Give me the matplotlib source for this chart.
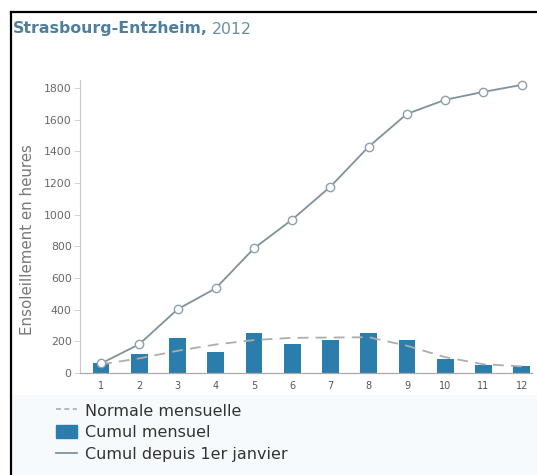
import matplotlib
matplotlib.use("Agg")
import matplotlib.pyplot as plt
import matplotlib.lines as mlines
import matplotlib.patches as mpatches

months = [1, 2, 3, 4, 5, 6, 7, 8, 9, 10, 11, 12]
month_labels = ['1', '2', '3', '4', '5', '6', '7', '8', '9', '10', '11', '12']
cumul_mensuel = [60, 122, 220, 133, 252, 182, 208, 252, 207, 89, 50, 44]
cumul_annuel = [60, 182, 402, 535, 787, 969, 1177, 1429, 1636, 1725, 1775, 1819]
normale = [55, 92, 140, 180, 208, 222, 224, 226, 172, 100, 55, 42]
yticks = [0, 200, 400, 600, 800, 1000, 1200, 1400, 1600, 1800]

bar_color = '#2b7dab'
line_color = '#7f929c'
dash_color = '#adadad'

plt.rcParams['font.family'] = ['DejaVu Sans']

W, H = 537, 475
fig = plt.figure(figsize=(W / 100, H / 100), dpi=100)
fig.patch.set_facecolor('white')

# pale band behind the legend
fig.patches.append(mpatches.Rectangle((11 / W, 0), 1, 1 - 395 / H, transform=fig.transFigure,
                                      facecolor='#f7fafc', edgecolor='none', zorder=0))
# frame (top and left edges)
fig.add_artist(mlines.Line2D([11 / W, 1], [1 - 12 / H, 1 - 12 / H], color='black', lw=1.6,
                             transform=fig.transFigure))
fig.add_artist(mlines.Line2D([11 / W, 11 / W], [0, 1 - 12 / H], color='black', lw=1.6,
                             transform=fig.transFigure))

ax = fig.add_axes([80 / W, 1 - 373 / H, (532 - 80) / W, (373 - 80) / H])
ax.set_facecolor('none')

ax.bar(months, cumul_mensuel, width=0.44, color=bar_color, zorder=2)
ax.plot(months, normale, color=dash_color, lw=1.3, dashes=(6, 4), zorder=3)
ax.plot(months, cumul_annuel, color=line_color, lw=1.3, marker='o', markersize=6,
        markerfacecolor='white', markeredgecolor='#8fa0aa', markeredgewidth=1, zorder=4)

ax.set_xlim(0.45, 12.27)
ax.set_ylim(0, 1850)
ax.set_xticks(months)
ax.set_xticklabels(month_labels)
ax.set_yticks(yticks)
ax.tick_params(axis='x', length=0, pad=6, labelsize=7, labelcolor='#555555')
ax.tick_params(axis='y', length=4, width=0.6, color='#cccccc', pad=2, labelsize=7.8,
               labelcolor='#666666')
for s in ['top', 'right']:
    ax.spines[s].set_visible(False)
ax.spines['left'].set_color('#c8c8c8')
ax.spines['bottom'].set_color('#aaaaaa')
ax.spines['left'].set_linewidth(0.8)
ax.spines['bottom'].set_linewidth(0.9)
ax.set_ylabel('Ensoleillement en heures', fontsize=10.8, color='#777777')
ax.yaxis.set_label_coords(-0.1, 0.455)

t1 = fig.text(13 / W, 1 - 29 / H, 'Strasbourg-Entzheim,', fontsize=11.3, fontweight='bold',
              color='#4f7f99', va='center', ha='left')
fig.canvas.draw()
bb = t1.get_window_extent()
fig.text((bb.x1 + 4) / W, 1 - 29 / H, '2012', fontsize=11.3, color='#6a8fa3',
         va='center', ha='left')

handles = [
    mlines.Line2D([], [], color=dash_color, lw=1.2, dashes=(3, 2)),
    mpatches.Patch(color=bar_color),
    mlines.Line2D([], [], color=line_color, lw=1.3),
]
labels = ['Normale mensuelle', 'Cumul mensuel', 'Cumul depuis 1er janvier']
leg = fig.legend(handles, labels, loc='upper left', bbox_to_anchor=(50 / W, 1 - 397 / H),
                 frameon=False, fontsize=11.5, handlelength=1.3, handleheight=0.9,
                 handletextpad=0.5, labelspacing=0.42, borderaxespad=0)
for t in leg.get_texts():
    t.set_color('#333333')

fig.savefig('out.png', dpi=100, facecolor='white')
